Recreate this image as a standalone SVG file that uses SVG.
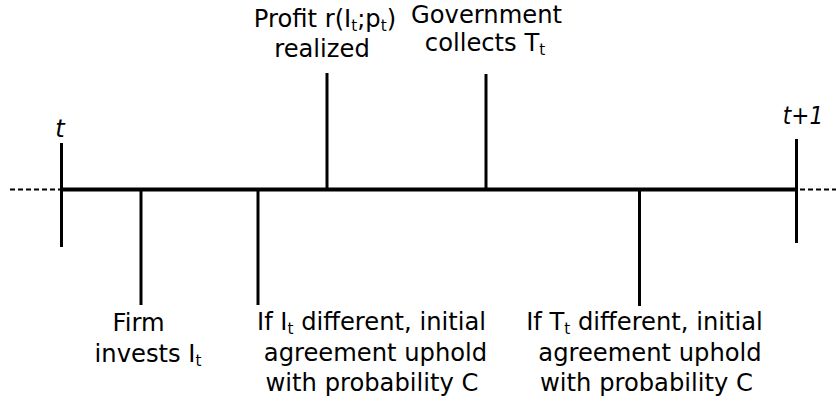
<svg xmlns="http://www.w3.org/2000/svg" width="836" height="401" viewBox="0 0 836 401">
<style>
.lbl{font-family:"DejaVu Sans","Liberation Sans",sans-serif;font-size:25.5px;fill:#000;text-anchor:middle}
.it{font-family:"DejaVu Sans","Liberation Sans",sans-serif;font-style:italic;font-size:24px;fill:#000;text-anchor:middle}
.sub{font-size:16px}
.tick{stroke:#000;stroke-width:3;fill:none}
.axis{stroke:#000;stroke-width:4;fill:none}
.dash{stroke:#000;stroke-width:2;stroke-dasharray:5 3;fill:none}
</style>
<rect width="836" height="401" fill="#fff"/>
<g id="connectors">
<line class="dash" x1="10" y1="189.5" x2="60" y2="189.5"/>
<line class="dash" x1="800" y1="189.5" x2="836" y2="189.5"/>
<line class="axis" x1="61" y1="189.5" x2="796" y2="189.5"/>
</g>
<g id="t">
<line class="tick" x1="61.5" y1="143" x2="61.5" y2="247"/>
<text class="it" x="60" y="137">t</text>
</g>
<g id="t1">
<line class="tick" x1="796.5" y1="139" x2="796.5" y2="243"/>
<text class="it" transform="translate(803 124) scale(0.9 1)" x="0" y="0">t+1</text>
</g>
<g id="firm">
<line class="tick" x1="141" y1="190" x2="141" y2="305"/>
<text class="lbl" transform="translate(138.5 331) scale(0.95 1)" x="0" y="0">Firm</text>
<text class="lbl" transform="translate(148 362) scale(0.95 1)" x="0" y="0">invests I<tspan class="sub" dy="4">t</tspan></text>
</g>
<g id="ifI">
<line class="tick" x1="258" y1="190" x2="258" y2="305"/>
<text class="lbl" transform="translate(371.5 330) scale(0.95 1)" x="0" y="0">If I<tspan class="sub" dy="4">t</tspan><tspan dy="-4"> different, initial</tspan></text>
<text class="lbl" transform="translate(375.5 361) scale(0.95 1)" x="0" y="0">agreement uphold</text>
<text class="lbl" transform="translate(372 391) scale(0.95 1)" x="0" y="0">with probability C</text>
</g>
<g id="profit">
<line class="tick" x1="327" y1="73" x2="327" y2="190"/>
<text class="lbl" transform="translate(325 27) scale(0.95 1)" x="0" y="0">Profit r(I<tspan class="sub" dy="4">t</tspan><tspan dy="-4">;p</tspan><tspan class="sub" dy="4">t</tspan><tspan dy="-4">)</tspan></text>
<text class="lbl" transform="translate(322 57) scale(0.95 1)" x="0" y="0">realized</text>
</g>
<g id="gov">
<line class="tick" x1="486" y1="74" x2="486" y2="190"/>
<text class="lbl" transform="translate(486.5 23) scale(0.95 1)" x="0" y="0">Government</text>
<text class="lbl" transform="translate(485 51) scale(0.95 1)" x="0" y="0">collects T<tspan class="sub" dy="4">t</tspan></text>
</g>
<g id="ifT">
<line class="tick" x1="639.5" y1="190" x2="639.5" y2="306"/>
<text class="lbl" transform="translate(644.5 330) scale(0.95 1)" x="0" y="0">If T<tspan class="sub" dy="4">t</tspan><tspan dy="-4"> different, initial</tspan></text>
<text class="lbl" transform="translate(650 361) scale(0.95 1)" x="0" y="0">agreement uphold</text>
<text class="lbl" transform="translate(646.5 391) scale(0.95 1)" x="0" y="0">with probability C</text>
</g>
</svg>
